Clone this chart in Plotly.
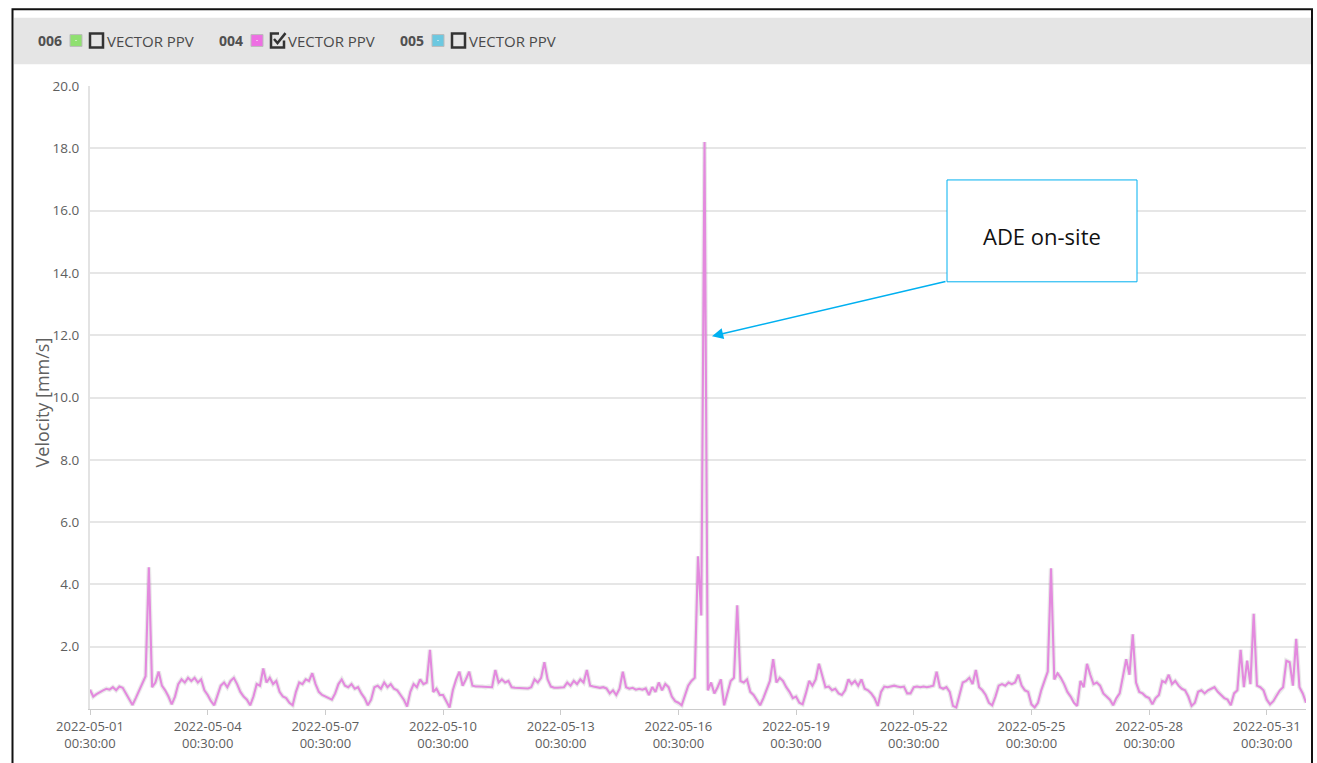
import plotly.graph_objects as go
import pandas as pd

# ---------------- data (2-hourly samples, starting 2022-05-01 00:30) ----------------
START = "2022-05-01 00:30:00"
may01 = [0.62, 0.40, 0.48, 0.55, 0.60, 0.65, 0.62, 0.70, 0.60, 0.72, 0.68, 0.50]
may02 = [0.30, 0.13, 0.35, 0.60, 0.85, 1.05, 4.55, 0.70, 0.85, 1.20, 0.75, 0.60]
may03 = [0.40, 0.15, 0.40, 0.80, 0.95, 0.85, 1.00, 0.90, 1.00, 0.85, 0.95, 0.60]
may04 = [0.45, 0.25, 0.12, 0.45, 0.75, 0.85, 0.70, 0.90, 1.00, 0.80, 0.55, 0.40]
may05 = [0.30, 0.12, 0.40, 0.80, 0.75, 1.30, 0.85, 1.00, 0.80, 0.90, 0.55, 0.40]
may06 = [0.35, 0.20, 0.12, 0.55, 0.85, 0.80, 0.95, 0.90, 1.15, 0.80, 0.55, 0.45]
may07 = [0.40, 0.35, 0.30, 0.50, 0.80, 0.95, 0.75, 0.70, 0.80, 0.65, 0.70, 0.50]
may08 = [0.35, 0.12, 0.30, 0.70, 0.75, 0.65, 0.85, 0.70, 0.80, 0.65, 0.60, 0.45]
may09 = [0.30, 0.08, 0.55, 0.80, 0.70, 0.95, 0.80, 0.85, 1.90, 0.55, 0.65, 0.45]
may10 = [0.45, 0.25, 0.05, 0.60, 0.95, 1.20, 0.75, 0.95, 1.20, 0.75, 0.72, 0.72]
may11 = [0.72, 0.70, 0.72, 0.70, 1.25, 0.85, 0.95, 0.85, 0.90, 0.70, 0.68, 0.68]
may12 = [0.68, 0.68, 0.66, 0.70, 0.95, 0.85, 1.00, 1.50, 0.95, 0.72, 0.68, 0.68]
may13 = [0.68, 0.70, 0.85, 0.75, 0.90, 0.80, 0.95, 0.85, 1.25, 0.75, 0.72, 0.70]
may14 = [0.68, 0.70, 0.66, 0.50, 0.60, 0.45, 0.65, 1.20, 0.70, 0.65, 0.68, 0.62]
may15 = [0.65, 0.62, 0.66, 0.45, 0.70, 0.55, 0.85, 0.60, 0.80, 0.70, 0.40, 0.25]
may16 = [0.20, 0.12, 0.45, 0.75, 0.90, 1.00, 4.90, 3.00, 18.20, 0.60, 0.85, 0.50]
may17 = [0.70, 0.95, 0.12, 0.55, 0.90, 1.00, 3.33, 0.90, 0.85, 0.95, 0.55, 0.45]
may18 = [0.30, 0.12, 0.35, 0.60, 0.90, 1.60, 0.85, 1.00, 0.90, 0.70, 0.55, 0.35]
may19 = [0.40, 0.20, 0.15, 0.50, 0.90, 0.75, 0.95, 1.45, 1.05, 0.70, 0.72, 0.60]
may20 = [0.65, 0.50, 0.45, 0.60, 0.95, 0.80, 0.90, 0.75, 0.95, 0.65, 0.60, 0.50]
may21 = [0.35, 0.10, 0.55, 0.72, 0.70, 0.72, 0.75, 0.72, 0.70, 0.72, 0.50, 0.50]
may22 = [0.70, 0.72, 0.70, 0.72, 0.70, 0.72, 0.75, 1.20, 0.70, 0.65, 0.70, 0.55]
may23 = [0.10, 0.05, 0.45, 0.85, 0.90, 1.00, 0.80, 1.25, 0.70, 0.60, 0.45, 0.20]
may24 = [0.12, 0.40, 0.75, 0.80, 0.75, 0.85, 0.80, 0.85, 1.10, 0.75, 0.60, 0.55]
may25 = [0.15, 0.05, 0.20, 0.60, 0.90, 1.20, 4.52, 0.95, 1.15, 1.00, 0.80, 0.55]
may26 = [0.40, 0.20, 0.10, 0.90, 0.70, 1.45, 1.10, 0.80, 0.85, 0.75, 0.50, 0.40]
may27 = [0.30, 0.12, 0.35, 0.50, 1.00, 1.60, 1.10, 2.40, 0.85, 0.55, 0.50, 0.40]
may28 = [0.35, 0.15, 0.35, 0.45, 0.90, 0.85, 1.10, 0.80, 0.90, 0.75, 0.65, 0.60]
may29 = [0.40, 0.10, 0.20, 0.55, 0.60, 0.50, 0.60, 0.65, 0.70, 0.55, 0.45, 0.35]
may30 = [0.30, 0.12, 0.50, 0.60, 1.90, 0.70, 1.55, 0.80, 3.06, 0.75, 0.70, 0.60]
may31 = [0.30, 0.15, 0.25, 0.45, 0.60, 0.70, 1.55, 1.50, 0.75, 2.25, 0.70, 0.50]
jun01 = [0.20]

ppv_004 = (may01 + may02 + may03 + may04 + may05 + may06 + may07 + may08 + may09 + may10
           + may11 + may12 + may13 + may14 + may15 + may16 + may17 + may18 + may19 + may20
           + may21 + may22 + may23 + may24 + may25 + may26 + may27 + may28 + may29 + may30
           + may31 + jun01)
times = pd.date_range(START, periods=len(ppv_004), freq="2h")

tick_dates = pd.date_range("2022-05-01 00:30:00", "2022-05-31 00:30:00", freq="3D")
tick_text = [f"{d:%Y-%m-%d}<br>{d:%H:%M:%S}" for d in tick_dates]
y_ticks = [0, 2, 4, 6, 8, 10, 12, 14, 16, 18, 20]
y_tick_text = ["", "2.0", "4.0", "6.0", "8.0", "10.0", "12.0", "14.0", "16.0", "18.0", "20.0"]

legend_ids = ["006", "004", "005"]
legend_colors = ["#8FE070", "#EE6FE3", "#6CC8E0"]
legend_checked = [False, True, False]
legend_label = "VECTOR PPV"
annotation_text = "ADE on-site"

# ---------------- layout geometry (pixels) ----------------
W, H = 1317, 763
L, R, T, B = 90, 1306, 86, 716


def px(x):
    return (x - L) / (R - L)


def py(y):
    return (B - y) / (B - T)


fig = go.Figure()
# soft shadow under the series line
fig.add_trace(go.Scatter(
    x=times, y=ppv_004, mode="lines",
    line=dict(color="rgba(90,90,90,0.13)", width=4.5),
    hoverinfo="skip", showlegend=False,
))
fig.add_trace(go.Scatter(
    x=times, y=ppv_004, mode="lines",
    line=dict(color="#E38ADE", width=2.1),
    hoverinfo="x+y", showlegend=False,
))

FONT = "Open Sans"
shapes = []
annotations = []

# outer black frame
shapes.append(dict(type="rect", xref="paper", yref="paper",
                   x0=px(12.5), x1=px(1312), y0=py(790), y1=py(8.5),
                   line=dict(color="#111111", width=2), fillcolor="rgba(0,0,0,0)", layer="below"))
# legend bar
shapes.append(dict(type="rect", xref="paper", yref="paper",
                   x0=px(14), x1=px(1311), y0=py(64), y1=py(17),
                   line=dict(width=0), fillcolor="#E5E5E5", layer="below"))

# legend items
item_x = [37, 218, 399]
for xi, lid, col, chk in zip(item_x, legend_ids, legend_colors, legend_checked):
    annotations.append(dict(xref="paper", yref="paper", x=px(xi - 1), y=py(40), text=f"<b>{lid}</b>",
                            showarrow=False, xanchor="left", yanchor="middle",
                            font=dict(family=FONT, size=14, color="#505050")))
    sx = xi + 33
    shapes.append(dict(type="rect", xref="paper", yref="paper",
                       x0=px(sx), x1=px(sx + 12), y0=py(46), y1=py(34),
                       line=dict(color="#BBBBBB", width=1), fillcolor=col, layer="above"))
    shapes.append(dict(type="rect", xref="paper", yref="paper",
                       x0=px(sx + 5.5), x1=px(sx + 6.5), y0=py(40.5), y1=py(39.5),
                       line=dict(width=0), fillcolor="white", layer="above"))
    bx = xi + 53
    if chk:
        path = (f"M {px(bx + 8)},{py(33)} L {px(bx)},{py(33)} L {px(bx)},{py(47)} "
                f"L {px(bx + 13)},{py(47)} L {px(bx + 13)},{py(40)}")
        shapes.append(dict(type="path", xref="paper", yref="paper", path=path,
                           line=dict(color="#333333", width=2.5), layer="above"))
        chkp = f"M {px(bx + 3)},{py(38.5)} L {px(bx + 6.5)},{py(42.5)} L {px(bx + 14.5)},{py(32.5)}"
        shapes.append(dict(type="path", xref="paper", yref="paper", path=chkp,
                           line=dict(color="#333333", width=2.5), layer="above"))
    else:
        shapes.append(dict(type="rect", xref="paper", yref="paper",
                           x0=px(bx), x1=px(bx + 13), y0=py(47), y1=py(33),
                           line=dict(color="#333333", width=2.5), fillcolor="rgba(0,0,0,0)",
                           layer="above"))
    annotations.append(dict(xref="paper", yref="paper", x=px(bx + 15), y=py(40), text=legend_label,
                            showarrow=False, xanchor="left", yanchor="middle",
                            font=dict(family=FONT, size=15, color="#4A4A4A")))

# y-axis title
annotations.append(dict(xref="paper", yref="paper", x=px(42), y=py(406), text="Velocity [mm/s]",
                        textangle=-90, showarrow=False, xanchor="center", yanchor="middle",
                        font=dict(family=FONT, size=18, color="#606060")))

# callout box
shapes.append(dict(type="rect", xref="paper", yref="paper",
                   x0=px(947), x1=px(1137), y0=py(284), y1=py(181),
                   line=dict(color="#00B0F0", width=1), fillcolor="white", layer="above"))
annotations.append(dict(xref="paper", yref="paper", x=px(1042), y=py(238), text=annotation_text,
                        showarrow=False, xanchor="center", yanchor="middle",
                        font=dict(family=FONT, size=22, color="#111111")))
annotations.append(dict(xref="paper", yref="paper", x=px(712), y=py(339), text="",
                        showarrow=True, axref="pixel", ayref="pixel", ax=235, ay=-55,
                        arrowhead=2, arrowsize=1.4, arrowwidth=1.6, arrowcolor="#00B0F0",
                        standoff=0))

fig.update_layout(
    width=W, height=H,
    margin=dict(l=L, r=W - R, t=T, b=H - B, pad=0),
    paper_bgcolor="white", plot_bgcolor="white",
    shapes=shapes, annotations=annotations,
    showlegend=False,
    xaxis=dict(
        type="date", range=["2022-05-01 00:30:00", "2022-06-01 00:30:00"],
        tickvals=tick_dates, ticktext=tick_text,
        tickfont=dict(family=FONT, size=13, color="#5E5E5E"),
        showgrid=False, showline=True, linecolor="#CCCCCC", linewidth=1,
        ticks="outside", ticklen=5, tickcolor="#CCCCCC", zeroline=False,
    ),
    yaxis=dict(
        range=[0, 20], tickvals=y_ticks, ticktext=y_tick_text,
        tickfont=dict(family=FONT, size=13.5, color="#5E5E5E"),
        showgrid=True, gridcolor="#E6E6E6", gridwidth=1.5,
        showline=True, linecolor="#E3E3E3", linewidth=2,
        zeroline=False, ticks="", ticklabelstandoff=6,
    ),
)

fig.write_html("out.html", config={"displayModeBar": False},
               post_script="document.body.style.margin='0';document.body.style.overflow='hidden';")
